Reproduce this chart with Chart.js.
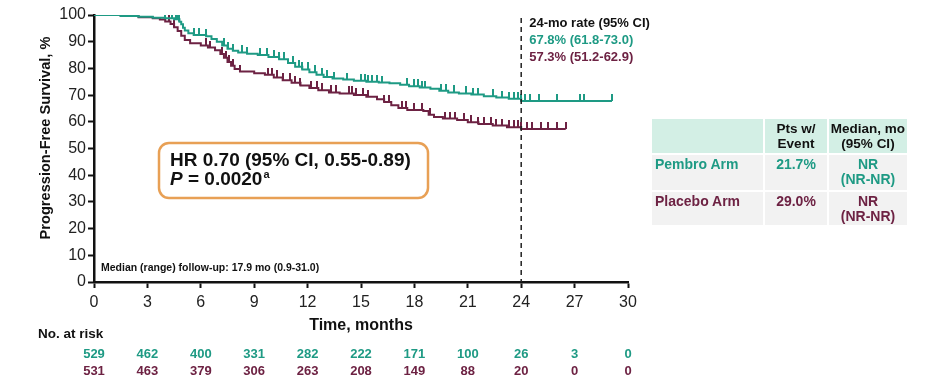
<!DOCTYPE html>
<html>
<head>
<meta charset="utf-8">
<script src="https://cdn.jsdelivr.net/npm/chart.js@4.4.1/dist/chart.umd.min.js"></script>
<style>
  html, body { margin: 0; padding: 0; background: #fff; }
  #wrap { position: relative; width: 936px; height: 390px; font-family: Arial, 'Liberation Sans', sans-serif; }
  #pfs { position: absolute; left: 0; top: 0; }
  #arm-table {
    position: absolute; left: 650px; top: 117px; width: 259px; table-layout: fixed;
    border-collapse: separate; border-spacing: 2px; font-size: 14px; font-weight: bold;
  }
  #arm-table th { background: #d3efe5; color: #111; padding: 2px 0 0 0; line-height: 15px; height: 32px; vertical-align: top; font-size: 13.5px; }
  #arm-table td { background: #f2f2f2; padding: 2px 3px 0 3px; line-height: 15px; vertical-align: top; }
  #arm-table td.c { text-align: center; }
  .pem { color: #1e9a84; }
  .pla { color: #6d2243; }
</style>
</head>
<body>
<div id="wrap">
  <canvas id="pfs" width="936" height="390"></canvas>
  <table id="arm-table">
    <colgroup><col style="width:111px"><col style="width:62px"><col style="width:78px"></colgroup>
    <tr><th></th><th>Pts w/<br>Event</th><th>Median, mo<br>(95% CI)</th></tr>
    <tr style="height:35px"><td class="pem">Pembro Arm</td><td class="c pem">21.7%</td><td class="c pem">NR<br>(NR-NR)</td></tr>
    <tr style="height:33px"><td class="pla">Placebo Arm</td><td class="c pla">29.0%</td><td class="c pla">NR<br>(NR-NR)</td></tr>
  </table>
</div>
<script>
'use strict';

// ─── Data ────────────────────────────────────────────────────────────────────
const PEMBRO_COLOR = '#1e9a84';
const PLACEBO_COLOR = '#6d2243';

const pembroTimes = [0, 1.5, 2.5, 3.3, 4.0, 4.5, 4.8, 4.9, 5.0, 5.1, 5.3, 5.6, 6.3, 6.6, 6.9, 7.2, 7.5, 7.8, 8.1, 8.6, 9.2, 9.8, 10.4, 10.9, 11.3, 11.7, 12.1, 12.5, 12.9, 13.4, 14.0, 14.6, 15.3, 16.0, 16.6, 17.2, 17.7, 18.3, 18.9, 19.4, 19.9, 20.5, 21.2, 21.9, 22.6, 23.3, 24.0, 29.1];
const pembroSurv = [100, 99.6, 99.3, 99.0, 98.8, 98.4, 97.5, 96.5, 95.2, 94.2, 93.2, 92.5, 92.0, 91.0, 90.0, 88.6, 87.4, 86.6, 86.0, 85.5, 85.0, 84.3, 83.4, 82.0, 80.6, 79.6, 78.6, 77.6, 76.8, 76.2, 75.8, 75.4, 75.0, 74.7, 74.4, 73.9, 73.3, 72.8, 72.4, 71.6, 71.0, 70.6, 70.2, 69.6, 69.1, 68.6, 67.8, 67.8];
const pembroCensor = [0.1, 1.1, 1.2, 4.0, 4.4, 4.6, 4.7, 4.8, 5.6, 5.9, 6.3, 7.3, 7.5, 7.8, 8.3, 8.6, 9.3, 9.7, 10.1, 10.4, 10.7, 11.2, 11.5, 11.7, 12.0, 12.4, 12.8, 13.1, 13.5, 14.2, 15.0, 15.2, 15.4, 15.6, 15.9, 16.2, 17.6, 18.0, 18.2, 18.4, 18.6, 19.5, 19.8, 20.2, 20.9, 21.3, 21.6, 22.4, 22.9, 23.3, 23.6, 23.8, 24.0, 24.2, 24.5, 25.0, 26.0, 27.3, 27.5, 29.1];

const placeboTimes = [0, 1.5, 2.5, 3.3, 3.7, 4.0, 4.3, 4.5, 4.7, 4.9, 5.1, 5.4, 6.0, 6.4, 6.8, 7.1, 7.3, 7.5, 7.7, 7.9, 8.2, 9.0, 9.6, 10.1, 10.6, 11.1, 11.6, 12.1, 12.6, 13.2, 13.8, 14.6, 15.3, 15.9, 16.3, 16.7, 17.1, 17.6, 18.5, 18.8, 19.1, 19.6, 20.4, 21.0, 21.6, 22.4, 23.2, 24.0, 26.5];
const placeboSurv = [100, 99.6, 99.2, 98.8, 98.3, 97.6, 96.6, 95.4, 94.0, 92.2, 90.6, 89.4, 88.6, 87.8, 86.8, 85.4, 84.0, 82.4, 81.0, 79.8, 78.8, 78.2, 77.6, 76.6, 75.6, 74.6, 73.6, 72.7, 71.8, 71.0, 70.6, 70.0, 69.4, 68.4, 67.4, 66.2, 65.2, 64.4, 64.0, 62.6, 61.8, 61.2, 60.7, 59.8, 59.2, 58.6, 58.0, 57.3, 57.3];
const placeboCensor = [4.2, 4.5, 6.3, 6.5, 7.2, 7.4, 7.6, 7.8, 8.2, 9.8, 10.0, 10.3, 10.6, 11.0, 11.3, 11.6, 12.2, 12.5, 12.8, 13.3, 13.6, 14.3, 14.5, 14.7, 15.1, 15.4, 16.3, 16.6, 17.3, 17.5, 18.0, 18.4, 18.9, 19.7, 20.0, 20.3, 20.8, 21.2, 21.6, 21.9, 22.3, 22.6, 22.9, 23.3, 23.6, 23.8, 24.0, 24.3, 24.6, 25.1, 25.5, 26.0, 26.5];

const riskTimes = [0, 3, 6, 9, 12, 15, 18, 21, 24, 27, 30];
const pembroAtRisk = [529, 462, 400, 331, 282, 222, 171, 100, 26, 3, 0];
const placeboAtRisk = [531, 463, 379, 306, 263, 208, 149, 88, 20, 0, 0];

const landmarkMonth = 24;
const rateLines = ['24-mo rate (95% CI)', '67.8% (61.8-73.0)', '57.3% (51.2-62.9)'];

const FONT = "Arial, 'Liberation Sans', sans-serif";

// ─── Helpers ─────────────────────────────────────────────────────────────────
function toPoints(times, surv) {
  return times.map((t, i) => ({ x: t, y: surv[i] }));
}

// survival value of a step curve at time t
function survAt(times, surv, t) {
  let s = surv[0];
  for (let i = 0; i < times.length; i++) {
    if (times[i] <= t) s = surv[i];
  }
  return s;
}

function censorPoints(times, surv, censor) {
  return censor.map(t => ({ x: t, y: survAt(times, surv, t) }));
}

// small upward tick used as censor mark
function tickMark(color) {
  const c = document.createElement('canvas');
  c.width = 2; c.height = 14;
  const g = c.getContext('2d');
  g.fillStyle = color;
  g.fillRect(0, 0, 2, 7);
  return c;
}

// ─── Annotations plugin ──────────────────────────────────────────────────────
const annotations = {
  id: 'annotations',
  afterDatasetsDraw(chart) {
    const { ctx, chartArea, scales } = chart;
    const x24 = scales.x.getPixelForValue(landmarkMonth);
    ctx.save();

    // landmark line
    ctx.strokeStyle = '#222';
    ctx.lineWidth = 1.5;
    ctx.setLineDash([5, 4]);
    ctx.beginPath();
    ctx.moveTo(x24, chartArea.top + 3);
    ctx.lineTo(x24, chartArea.bottom);
    ctx.stroke();
    ctx.setLineDash([]);

    // 24-mo rates
    ctx.font = 'bold 13px ' + FONT;
    ctx.textBaseline = 'middle';
    ctx.textAlign = 'left';
    const rateColors = ['#111', PEMBRO_COLOR, PLACEBO_COLOR];
    rateLines.forEach((txt, i) => {
      ctx.fillStyle = rateColors[i];
      ctx.fillText(txt, x24 + 8, 23 + i * 17);
    });

    // HR box
    ctx.strokeStyle = '#e8a055';
    ctx.lineWidth = 2.5;
    ctx.beginPath();
    ctx.roundRect(159, 143, 269, 55, 10);
    ctx.stroke();
    ctx.fillStyle = '#111';
    ctx.font = 'bold 19px ' + FONT;
    ctx.fillText('HR 0.70 (95% CI, 0.55-0.89)', 170, 161);
    ctx.font = 'italic bold 19px ' + FONT;
    ctx.fillText('P', 170, 180);
    const pw = ctx.measureText('P').width;
    ctx.font = 'bold 19px ' + FONT;
    ctx.fillText(' = 0.0020', 170 + pw, 180);
    const ew = ctx.measureText(' = 0.0020').width;
    ctx.font = 'bold 11px ' + FONT;
    ctx.fillText('a', 170 + pw + ew + 1, 175);

    // follow-up note
    ctx.font = 'bold 10.5px ' + FONT;
    ctx.fillText('Median (range) follow-up: 17.9 mo (0.9-31.0)', 101, 268);

    // y title
    ctx.save();
    ctx.translate(46, 138);
    ctx.rotate(-Math.PI / 2);
    ctx.textAlign = 'center';
    ctx.font = 'bold 14.6px ' + FONT;
    ctx.fillText('Progression-Free Survival, %', 0, 0);
    ctx.restore();

    // number at risk
    ctx.font = 'bold 13.5px ' + FONT;
    ctx.fillText('No. at risk', 38, 334);
    ctx.font = 'bold 13px ' + FONT;
    ctx.textAlign = 'center';
    riskTimes.forEach((t, i) => {
      const px = scales.x.getPixelForValue(t);
      ctx.fillStyle = PEMBRO_COLOR;
      ctx.fillText(String(pembroAtRisk[i]), px, 354);
      ctx.fillStyle = PLACEBO_COLOR;
      ctx.fillText(String(placeboAtRisk[i]), px, 371);
    });
    ctx.restore();
  }
};

// ─── Chart ───────────────────────────────────────────────────────────────────
new Chart(document.getElementById('pfs'), {
  type: 'line',
  data: {
    datasets: [
      {
        label: 'Pembro Arm',
        data: toPoints(pembroTimes, pembroSurv),
        borderColor: PEMBRO_COLOR, borderWidth: 2, stepped: true, pointRadius: 0, fill: false,
      },
      {
        label: 'Placebo Arm',
        data: toPoints(placeboTimes, placeboSurv),
        borderColor: PLACEBO_COLOR, borderWidth: 2, stepped: true, pointRadius: 0, fill: false,
      },
      {
        label: 'Pembro censored',
        data: censorPoints(pembroTimes, pembroSurv, pembroCensor),
        showLine: false, pointStyle: tickMark(PEMBRO_COLOR), pointRadius: 7,
      },
      {
        label: 'Placebo censored',
        data: censorPoints(placeboTimes, placeboSurv, placeboCensor),
        showLine: false, pointStyle: tickMark(PLACEBO_COLOR), pointRadius: 7,
      },
    ]
  },
  options: {
    responsive: false,
    animation: false,
    layout: { padding: { left: 0, right: 308, top: 15, bottom: 55 } },
    plugins: { legend: { display: false }, tooltip: { enabled: false } },
    scales: {
      x: {
        type: 'linear', min: 0, max: 30,
        afterFit: s => { s.height = 53; },
        ticks: { stepSize: 3, color: '#222', font: { family: FONT, size: 16 }, padding: 5 },
        grid: { drawOnChartArea: false, drawTicks: true, tickLength: 6, tickWidth: 2, tickColor: '#111' },
        border: { color: '#111', width: 2.5 },
        title: { display: true, text: 'Time, months', color: '#111', font: { family: FONT, size: 16, weight: 'bold' }, padding: { top: 1, bottom: 0 } },
      },
      y: {
        min: 0, max: 100,
        afterFit: s => { s.width = 94; },
        ticks: { stepSize: 10, color: '#222', font: { family: FONT, size: 16 }, padding: 2 },
        grid: { drawOnChartArea: false, drawTicks: true, tickLength: 6, tickWidth: 2, tickColor: '#111' },
        border: { color: '#111', width: 2.5 },
      }
    }
  },
  plugins: [annotations]
});
</script>
</body>
</html>
